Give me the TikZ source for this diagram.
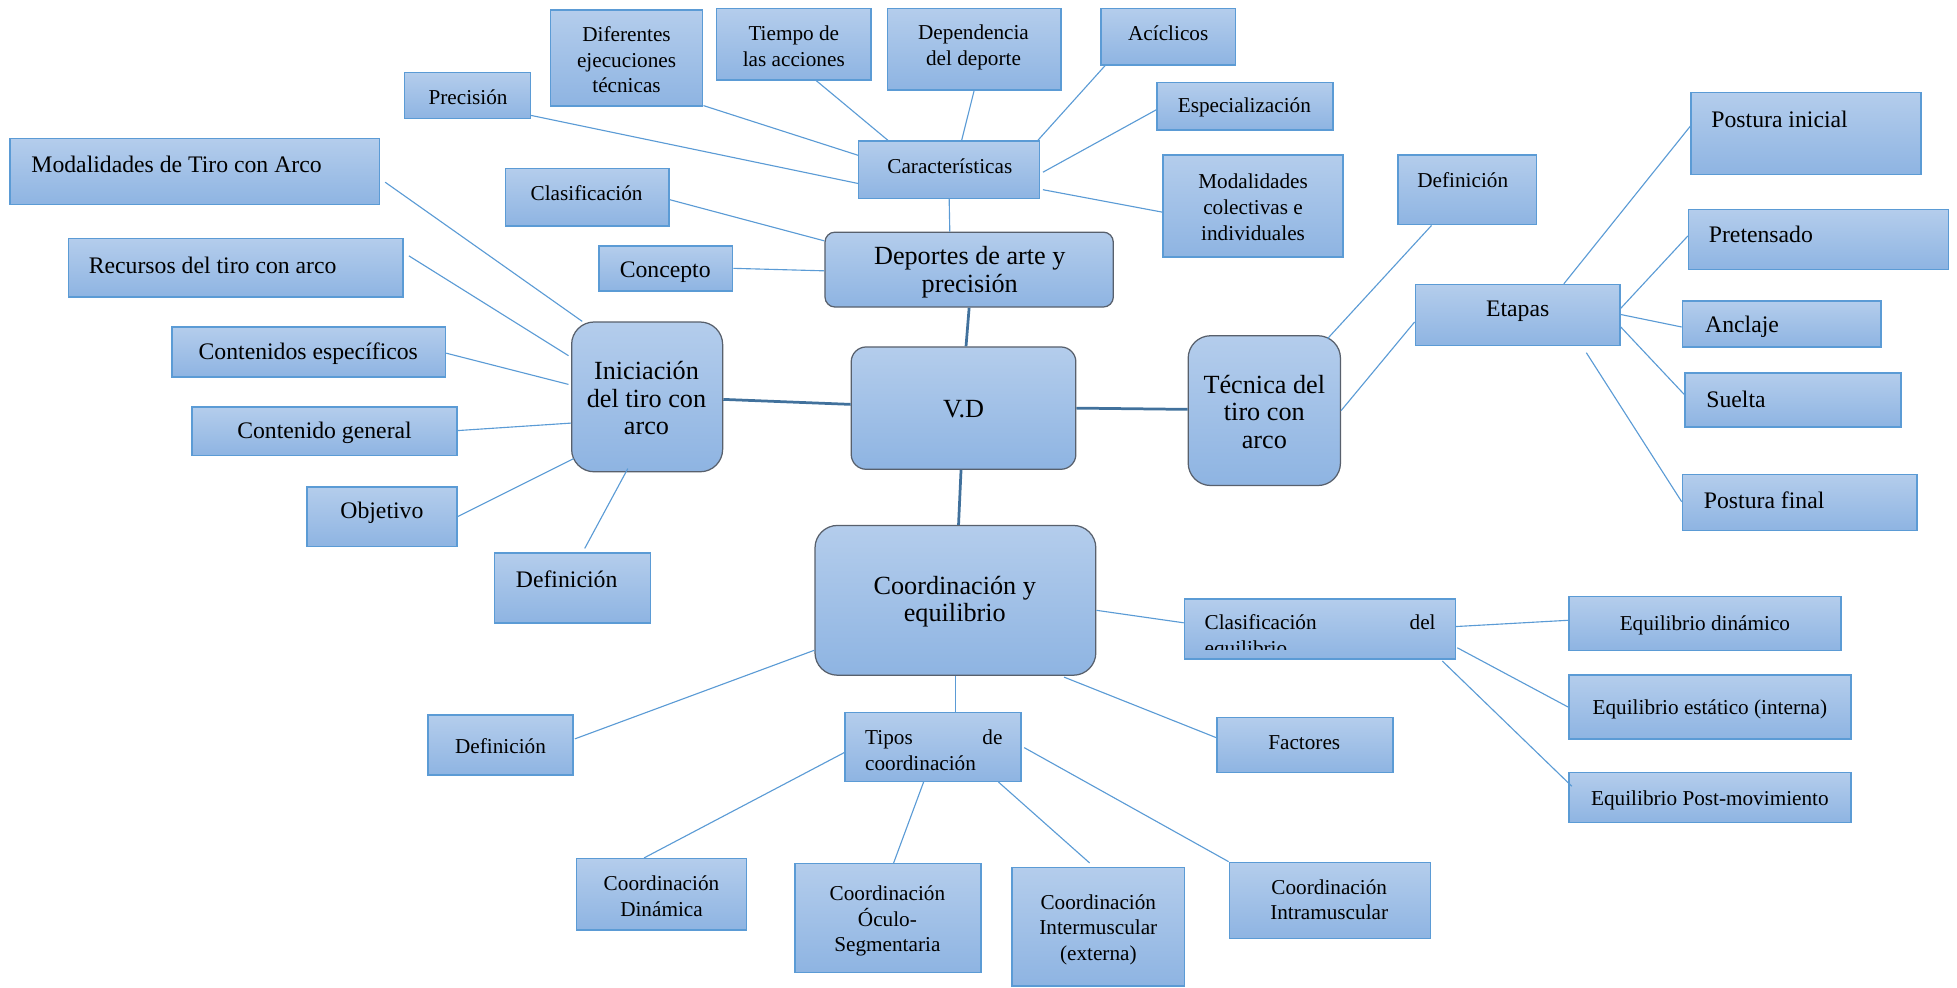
\documentclass[tikz,border=0pt]{standalone}
\usepackage{fontspec}
\setmainfont{Liberation Serif}
\usetikzlibrary{fit,calc}
\definecolor{bxtop}{RGB}{180,205,236}
\definecolor{bxbot}{RGB}{142,180,226}
\definecolor{bxline}{RGB}{91,155,213}
\definecolor{rline}{RGB}{88,96,108}
\definecolor{lnkc}{RGB}{91,155,213}
\definecolor{trunkc}{RGB}{65,113,156}
\tikzset{
  bx/.style={draw=bxline, line width=1.2pt, top color=bxtop, bottom color=bxbot, inner sep=0pt},
  rbx/.style={draw=rline, line width=1pt, top color=bxtop, bottom color=bxbot, inner sep=0pt, rounded corners=16pt},
  lnk/.style={draw=lnkc, line width=0.9pt},
  trunk/.style={draw=trunkc, line width=2.2pt},
  t17/.style={font=\fontsize{17}{20.5}\selectfont, align=center, inner sep=0pt},
  t19/.style={font=\fontsize{19}{22}\selectfont, align=center, inner sep=0pt},
  t21/.style={font=\fontsize{21}{22}\selectfont, align=center, inner sep=0pt},
}
\begin{document}
\begin{tikzpicture}[x=1pt,y=-1pt]
\useasboundingbox (0,0) rectangle (1568,791);

% ---------- boxes ----------
% central branch: Deportes de arte y precisión
\node[bx, fit={(324,58) (425,95)}] (prec) {};
\node[t17] (precT) at (375,78) {Precisión};
\node[bx, fit={(441,8) (563,85)}] (difer) {};
\node[t17] (diferT) at (502,48) {Diferentes\\ejecuciones\\técnicas};
\node[bx, fit={(574,7) (698,64)}] (tiempo) {};
\node[t17] (tiempoT) at (636,37) {Tiempo de\\las acciones};
\node[bx, fit={(711,7) (850,72)}] (depend) {};
\node[t17] (dependT) at (780,38) {Dependencia\\del deporte};
\node[bx, fit={(882,7) (990,52)}] (acic) {};
\node[t17] (acicT) at (936,27) {Acíclicos};
\node[bx, fit={(927,66) (1068,104)}] (espec) {};
\node[t17] (especT) at (997,86) {Especialización};
\node[bx, fit={(932,124) (1076,206)}] (modcol) {};
\node[t17] (modcolT) at (1004,166) {Modalidades\\colectivas e\\individuales};
\node[bx, fit={(688,113) (833,159)}] (caract) {};
\node[t17] (caractT) at (761,133) {Características};
\node[bx, fit={(405,135) (536,181)}] (clasif) {};
\node[t17] (clasifT) at (470,155) {Clasificación};
\node[bx, fit={(480,197) (587,233)}] (concep) {};
\node[t19] (concepT) at (533,218) {Concepto};
\node[rbx, rounded corners=8pt, fit={(661,186) (892,246)}] (deport) {};
\node[t21] (deportT) at (777,218) {Deportes de arte y\\precisión};

% left branch: Iniciación del tiro con arco
\node[bx, fit={(8,111) (304,164)}] (modTA) {};
\node[t19, anchor=west] (modTAT) at (25,132) {Modalidades de Tiro con Arco};
\node[bx, fit={(55,191) (323,238)}] (recur) {};
\node[t19, anchor=west] (recurT) at (71,213) {Recursos del tiro con arco};
\node[bx, fit={(138,262) (357,302)}] (conesp) {};
\node[t19] (conespT) at (247,283) {Contenidos específicos};
\node[bx, fit={(154,326) (366,365)}] (congen) {};
\node[t19] (congenT) at (260,347) {Contenido general};
\node[bx, fit={(246,390) (366,438)}] (objet) {};
\node[t19] (objetT) at (306,411) {Objetivo};
\node[bx, fit={(396,443) (521,499)}] (defI) {};
\node[t19] (defIT) at (454,464) {Definición};
\node[rbx, rounded corners=18pt, fit={(458,258) (579,378)}] (inic) {};
\node[t21] (inicT) at (518,319) {Iniciación\\del tiro con\\arco};

% centre
\node[rbx, rounded corners=12pt, fit={(682,278) (862,376)}] (vd) {};
\node[t21] (vdT) at (772,328) {V.D};

% right branch: Técnica del tiro con arco
\node[rbx, rounded corners=18pt, fit={(952,269) (1074,389)}] (tecn) {};
\node[t21] (tecnT) at (1013,330) {Técnica del\\tiro con\\arco};
\node[bx, fit={(1120,124) (1231,180)}] (defT) {};
\node[t17] (defTT) at (1172,144) {Definición};
\node[bx, fit={(1134,228) (1298,277)}] (etapas) {};
\node[t19] (etapasT) at (1216,249) {Etapas};
\node[bx, fit={(1355,74) (1539,140)}] (pinic) {};
\node[t19, anchor=west] (pinicT) at (1371,96) {Postura inicial};
\node[bx, fit={(1353,168) (1561,216)}] (preten) {};
\node[t19, anchor=west] (pretenT) at (1369,188) {Pretensado};
\node[bx, fit={(1348,241) (1507,278)}] (anclaje) {};
\node[t19, anchor=west] (anclajeT) at (1366,262) {Anclaje};
\node[bx, fit={(1350,299) (1523,342)}] (suelta) {};
\node[t19, anchor=west] (sueltaT) at (1367,320) {Suelta};
\node[bx, fit={(1348,380) (1536,425)}] (pfinal) {};
\node[t19, anchor=west] (pfinalT) at (1365,401) {Postura final};

% lower branch: Coordinación y equilibrio
\node[rbx, rounded corners=18pt, fit={(653,421) (878,541)}] (coord) {};
\node[t21] (coordT) at (765,482) {Coordinación y\\equilibrio};
\node[bx, fit={(949,480) (1166,528)}] (clasE) {};
\begin{scope}
  \clip (949,480) rectangle (1166,520);
  \node[t17, align=left, anchor=west] (clasET) at (965,510.5)
    {\makebox[185pt][s]{Clasificación del}\\equilibrio};
\end{scope}
\node[bx, fit={(1257,478) (1475,521)}] (eqdin) {};
\node[t17] (eqdinT) at (1366,501) {Equilibrio dinámico};
\node[bx, fit={(1257,541) (1483,592)}] (eqest) {};
\node[t17] (eqestT) at (1370,568) {Equilibrio estático (interna)};
\node[bx, fit={(1257,619) (1483,659)}] (eqpost) {};
\node[t17] (eqpostT) at (1370,641) {Equilibrio Post-movimiento};
\node[bx, fit={(975,575) (1116,619)}] (factor) {};
\node[t17] (factorT) at (1045,595) {Factores};
\node[bx, fit={(343,573) (459,621)}] (defC) {};
\node[t17] (defCT) at (401,598) {Definición};
\node[bx, fit={(677,571) (818,626)}] (tipos) {};
\node[t17, align=left, anchor=west] (tiposT) at (693,601)
  {\makebox[110pt][s]{Tipos de}\\coordinación};
\node[bx, fit={(462,688) (598,745)}] (cdin) {};
\node[t17] (cdinT) at (530,718) {Coordinación\\Dinámica};
\node[bx, fit={(637,692) (786,779)}] (cocul) {};
\node[t17] (coculT) at (711,738) {Coordinación\\Óculo-\\Segmentaria};
\node[bx, fit={(811,695) (949,790)}] (cinter) {};
\node[t17] (cinterT) at (880,745) {Coordinación\\Intermuscular\\(externa)};
\node[bx, fit={(985,691) (1146,752)}] (cintra) {};
\begin{scope}
  \clip (985,691) rectangle (1146,744.5);
  \node[t17] (cintraT) at (1065,733) {Coordinación\\Intramuscular\\(interna)};
\end{scope}

% ---------- connectors ----------
\draw[trunk] (deport.south) -- ($(vd.north)+(2,0)$);
\draw[trunk] ($(inic.east)+(0,2)$) -- ($(vd.west)+(0,-3)$);
\draw[trunk] (vd.east) -- ($(tecn.west)+(0,-1)$);
\draw[trunk] ($(vd.south)+(-2,0)$) -- ($(coord.north)+(2.5,0)$);

\draw[lnk] ($(prec.east)+(0,16)$) -- ($(caract.west)+(0,11)$);
\draw[lnk] ($(difer.south east)+(0,-1)$) -- ($(caract.north west)+(0,12)$);
\draw[lnk] ($(tiempo.south)+(18,0)$) -- ($(caract.north west)+(24,0)$);
\draw[lnk] (depend.south) -- ($(caract.north)+(10,0)$);
\draw[lnk] ($(acic.south west)+(4,0)$) -- ($(caract.north east)+(-2,0)$);
\draw[lnk] ($(espec.west)+(0,3)$) -- ($(caract.east)+(2,2)$);
\draw[lnk] ($(modcol.west)+(0,5)$) -- ($(caract.east)+(2,16)$);
\draw[lnk] ($(caract.south)$) -- ($(deport.north)+(-15.5,0)$);
\draw[lnk] ($(clasif.east)+(0,2)$) -- ($(deport.west)+(0,-23)$);
\draw[lnk] (concep.east) -- ($(deport.west)+(0,1)$);

\draw[lnk] ($(modTA.east)+(4,8.5)$) -- ($(inic.north west)+(9,0)$);
\draw[lnk] ($(recur.east)+(4,-9.5)$) -- ($(inic.west)+(-2,-33)$);
\draw[lnk] ($(conesp.east)+(0,1)$) -- ($(inic.west)+(-2,-10)$);
\draw[lnk] ($(congen.east)+(0,-0.5)$) -- ($(inic.west)+(0,21)$);
\draw[lnk] (objet.east) -- ($(inic.south west)+(2,-11)$);
\draw[lnk] ($(defI.north)+(10,-3)$) -- ($(inic.south)+(-15.5,-3)$);

\draw[lnk] ($(tecn.north east)+(-11,3)$) -- ($(defT.south)+(-28.5,0)$);
\draw[lnk] (tecn.east) -- ($(etapas.west)+(0,5.5)$);
\draw[lnk] ($(etapas.north)+(37,0)$) -- ($(pinic.west)+(0,-6)$);
\draw[lnk] ($(etapas.east)+(0,-5.5)$) -- ($(preten.west)+(0,-3)$);
\draw[lnk] ($(etapas.east)+(0,-0.5)$) -- ($(anclaje.west)+(0,2.5)$);
\draw[lnk] ($(etapas.east)+(0,9.5)$) -- ($(suelta.west)+(0,-4.5)$);
\draw[lnk] ($(etapas.south)+(55,5)$) -- ($(pfinal.west)+(0,-0.5)$);

\draw[lnk] ($(coord.east)+(0,8)$) -- ($(clasE.west)+(0,-5)$);
\draw[lnk] ($(clasE.east)+(0,-2)$) -- ($(eqdin.west)+(0,-2.5)$);
\draw[lnk] ($(clasE.east)+(1,15)$) -- (eqest.west);
\draw[lnk] ($(clasE.south east)+(-11,1)$) -- ($(eqpost.west)+(3,-9)$);
\draw[lnk] ($(coord.south east)+(-26,1)$) -- ($(factor.west)+(0,-6)$);
\draw[lnk] ($(coord.west)+(0,40)$) -- ($(defC.east)+(1,-5)$);
\draw[lnk] (coord.south) -- ($(tipos.north)+(18,0)$);
\draw[lnk] ($(tipos.west)+(0,4.5)$) -- ($(cdin.north)+(-14,0)$);
\draw[lnk] ($(tipos.south)+(-7.5,0)$) -- ($(cocul.north)+(4.5,0)$);
\draw[lnk] ($(tipos.south)+(52.5,0)$) -- ($(cinter.north)+(-7,-3)$);
\draw[lnk] ($(tipos.east)+(2,0.5)$) -- (cintra.north west);
\end{tikzpicture}
\end{document}
